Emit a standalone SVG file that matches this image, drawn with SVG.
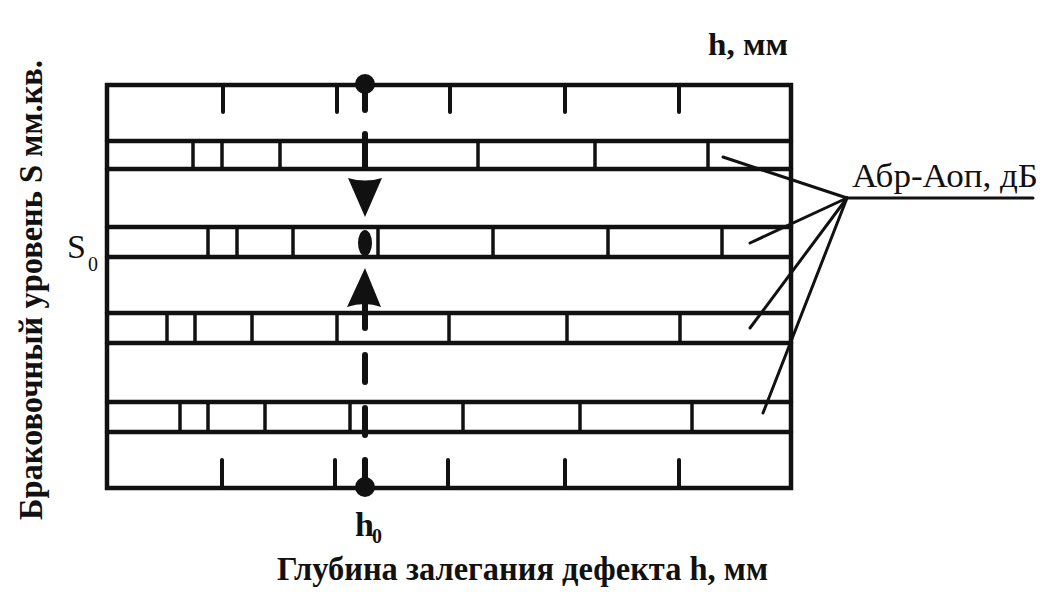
<svg xmlns="http://www.w3.org/2000/svg" width="1052" height="605" viewBox="0 0 1052 605">
<style>
.ln{stroke:#111;stroke-width:4.5;fill:none;stroke-linecap:round}
.tk{stroke:#111;stroke-width:4;fill:none;stroke-linecap:round}
.dv{stroke:#111;stroke-width:3.5;fill:none}
.ax{stroke:#111;stroke-width:6;fill:none;stroke-linecap:round}
.ld{stroke:#111;stroke-width:3;fill:none;stroke-linecap:round}
.t{font-family:"Liberation Serif","Times New Roman",serif;fill:#111}
</style>
<rect width="1052" height="605" fill="#fff"/>
<g id="chart">
<rect class="ln" x="107" y="85" width="684" height="403"/>
<g id="bands">
<line class="ln" x1="107" y1="141" x2="791" y2="141"/>
<line class="ln" x1="107" y1="169" x2="791" y2="169"/>
<line class="ln" x1="107" y1="227" x2="791" y2="227"/>
<line class="ln" x1="107" y1="257" x2="791" y2="257"/>
<line class="ln" x1="107" y1="313" x2="791" y2="313"/>
<line class="ln" x1="107" y1="343" x2="791" y2="343"/>
<line class="ln" x1="107" y1="402" x2="791" y2="402"/>
<line class="ln" x1="107" y1="432" x2="791" y2="432"/>
</g>
<g id="ticks-top">
<line class="tk" x1="223" y1="85" x2="223" y2="112"/>
<line class="tk" x1="337" y1="85" x2="337" y2="112"/>
<line class="tk" x1="450" y1="85" x2="450" y2="112"/>
<line class="tk" x1="565" y1="85" x2="565" y2="112"/>
<line class="tk" x1="679" y1="85" x2="679" y2="112"/>
</g>
<g id="ticks-bottom">
<line class="tk" x1="222" y1="460" x2="222" y2="488"/>
<line class="tk" x1="335" y1="460" x2="335" y2="488"/>
<line class="tk" x1="448" y1="460" x2="448" y2="488"/>
<line class="tk" x1="565" y1="460" x2="565" y2="488"/>
<line class="tk" x1="679" y1="460" x2="679" y2="488"/>
</g>
<g id="strip1">
<line class="dv" x1="193" y1="141" x2="193" y2="169"/>
<line class="dv" x1="222" y1="141" x2="222" y2="169"/>
<line class="dv" x1="280" y1="141" x2="280" y2="169"/>
<line class="dv" x1="478" y1="141" x2="478" y2="169"/>
<line class="dv" x1="595" y1="141" x2="595" y2="169"/>
<line class="dv" x1="708" y1="141" x2="708" y2="169"/>
</g>
<g id="strip2">
<line class="dv" x1="208" y1="227" x2="208" y2="257"/>
<line class="dv" x1="237" y1="227" x2="237" y2="257"/>
<line class="dv" x1="293" y1="227" x2="293" y2="257"/>
<line class="dv" x1="378" y1="227" x2="378" y2="257"/>
<line class="dv" x1="493" y1="227" x2="493" y2="257"/>
<line class="dv" x1="608" y1="227" x2="608" y2="257"/>
<line class="dv" x1="722" y1="227" x2="722" y2="257"/>
</g>
<g id="strip3">
<line class="dv" x1="167" y1="313" x2="167" y2="343"/>
<line class="dv" x1="195" y1="313" x2="195" y2="343"/>
<line class="dv" x1="252" y1="313" x2="252" y2="343"/>
<line class="dv" x1="337" y1="313" x2="337" y2="343"/>
<line class="dv" x1="449" y1="313" x2="449" y2="343"/>
<line class="dv" x1="567" y1="313" x2="567" y2="343"/>
<line class="dv" x1="680" y1="313" x2="680" y2="343"/>
</g>
<g id="strip4">
<line class="dv" x1="180" y1="402" x2="180" y2="432"/>
<line class="dv" x1="208" y1="402" x2="208" y2="432"/>
<line class="dv" x1="265" y1="402" x2="265" y2="432"/>
<line class="dv" x1="350" y1="402" x2="350" y2="432"/>
<line class="dv" x1="463" y1="402" x2="463" y2="432"/>
<line class="dv" x1="580" y1="402" x2="580" y2="432"/>
<line class="dv" x1="692" y1="402" x2="692" y2="432"/>
</g>
</g>
<g id="h0-axis">
<circle cx="365" cy="84" r="10" fill="#111"/>
<line class="ax" x1="365" y1="84" x2="365" y2="110"/>
<line class="ax" x1="365" y1="134" x2="365" y2="168"/>
<path d="M348,178 Q365,183 382,178 L365,217 Z" fill="#111"/>
<ellipse cx="365" cy="243" rx="7" ry="13" fill="#111"/>
<path d="M365,268 L381,307 Q365,301 347,307 Z" fill="#111"/>
<line class="ax" x1="365" y1="300" x2="365" y2="328"/>
<line class="ax" x1="365" y1="355" x2="365" y2="382"/>
<line class="ax" x1="365" y1="408" x2="365" y2="435"/>
<line class="ax" x1="365" y1="460" x2="365" y2="487"/>
<circle cx="365" cy="487" r="10" fill="#111"/>
</g>
<g id="connectors">
<line class="ld" x1="723" y1="157" x2="847" y2="198"/>
<line class="ld" x1="750" y1="243" x2="847" y2="198"/>
<line class="ld" x1="750" y1="328" x2="847" y2="198"/>
<line class="ld" x1="763" y1="413" x2="847" y2="198"/>
<line class="ld" x1="847" y1="198" x2="1033" y2="198"/>
</g>
<g id="labels">
<text class="t" x="708" y="55" font-size="32" font-weight="bold" textLength="80" lengthAdjust="spacingAndGlyphs">h, мм</text>
<text class="t" x="852" y="187" font-size="34" textLength="186" lengthAdjust="spacingAndGlyphs">Абр-Аоп, дБ</text>
<text class="t" x="67" y="258" font-size="34">S</text>
<text class="t" x="88" y="271" font-size="20">0</text>
<text class="t" x="355" y="536" font-size="34" font-weight="bold">h</text>
<text class="t" x="372" y="543" font-size="20" font-weight="bold">0</text>
<text class="t" x="277" y="580" font-size="34" font-weight="bold" textLength="491" lengthAdjust="spacingAndGlyphs">Глубина залегания дефекта h, мм</text>
<text class="t" transform="translate(42,520) rotate(-90)" x="0" y="0" font-size="34" font-weight="bold" textLength="460" lengthAdjust="spacingAndGlyphs">Браковочный уровень S мм.кв.</text>
</g>
</svg>
